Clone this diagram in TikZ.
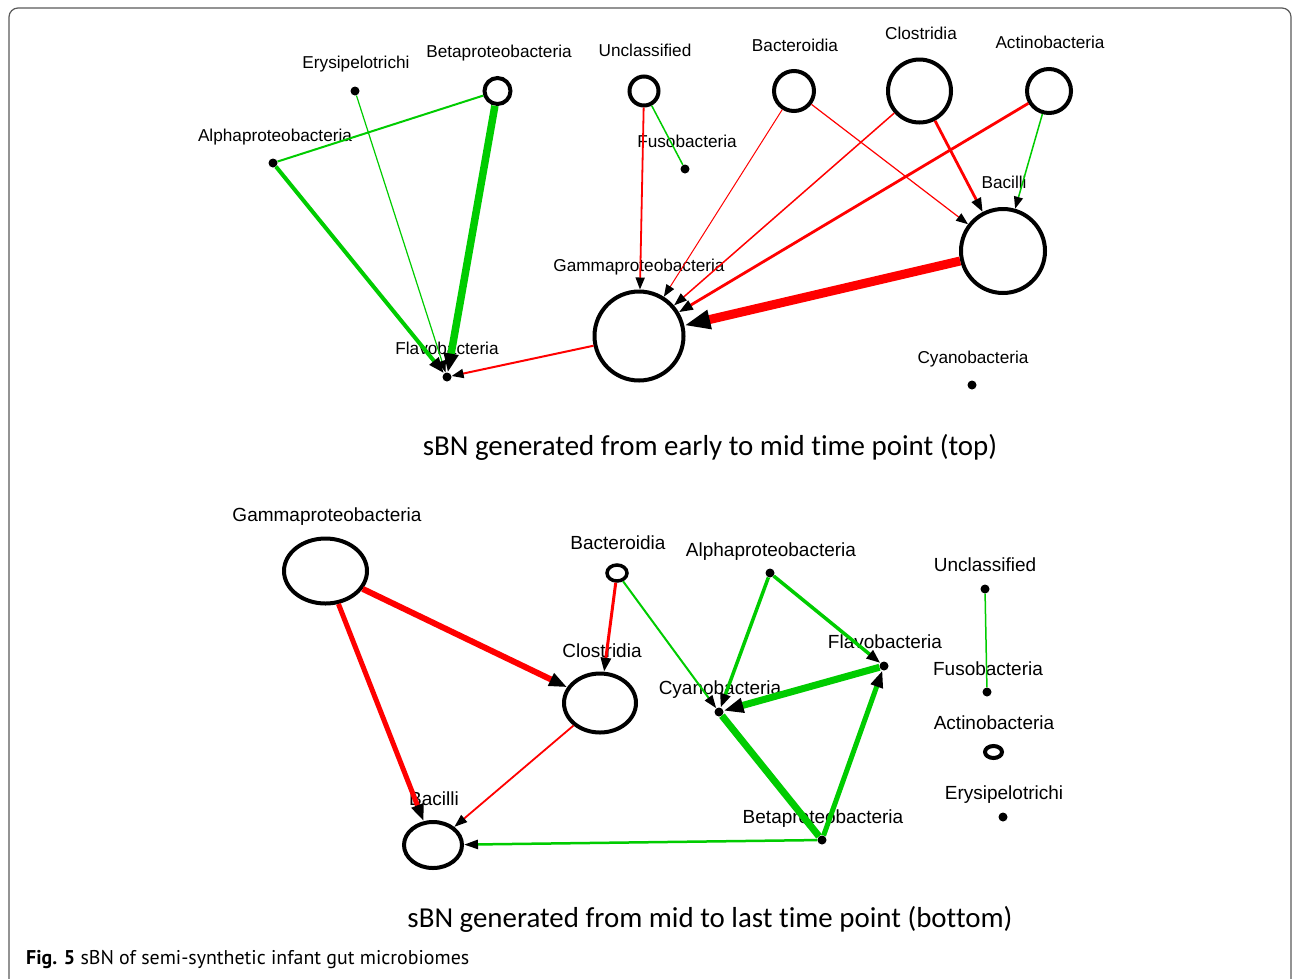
\documentclass[tikz,border=0pt]{standalone}
\usepackage{fontspec}
\setmainfont{Liberation Sans}
\newfontfamily\capfont[Ligatures=NoCommon]{Carlito}
\newfontfamily\figfont{PT Sans}
\usetikzlibrary{arrows.meta,shapes.geometric}
\definecolor{pos}{RGB}{0,204,0}
\definecolor{neg}{RGB}{255,0,0}
\definecolor{frame}{RGB}{90,90,90}
\tikzset{
  lbl/.style={font=\fontsize{17.2}{20}\selectfont, anchor=base, inner sep=0pt},
  lblb/.style={font=\fontsize{19}{22}\selectfont, anchor=base, inner sep=0pt},
  captext/.style={font=\capfont\fontsize{28.9}{34}\selectfont, anchor=base, inner sep=0pt},
  dot/.style={circle, fill=black, minimum size=9pt, inner sep=0pt},
  ring/.style={circle, draw=black, line width=4pt, fill=white, inner sep=0pt, minimum size=#1},
  oval/.style args={#1/#2}{ellipse, draw=black, line width=4pt, fill=white, inner sep=0pt, minimum width=#1, minimum height=#2},
  arr/.style args={#1/#2}{-{Triangle[length=#1pt,width=#2pt,black]}},
  gline/.style={draw=pos, line width=#1},
  rline/.style={draw=neg, line width=#1},
}
\begin{document}
\begin{tikzpicture}[x=1pt,y=-1pt]
\useasboundingbox (0,0) rectangle (1292,978);
\fill[white] (0,0) rectangle (1292,978);
% panel frame
\draw[frame, line width=1.2pt, rounded corners=9pt] (9,1000) -- (9,8) -- (1291,8) -- (1291,1000);

% ---------- early to mid ----------
\node[lbl] (tEryL) at (356,68) {Erysipelotrichi};
\node[lbl] (tBetL) at (499,57) {Betaproteobacteria};
\node[lbl] (tUncL) at (645,56) {Unclassified};
\node[lbl] (tBacL) at (795,51) {Bacteroidia};
\node[lbl] (tCloL) at (921,39) {Clostridia};
\node[lbl] (tActL) at (1050,48) {Actinobacteria};
\node[lbl] (tAlpL) at (275,141) {Alphaproteobacteria};
\node[lbl] (tFusL) at (687,147) {Fusobacteria};
\node[lbl] (tBciL) at (1004,188) {Bacilli};
\node[lbl] (tGamL) at (639,271) {Gammaproteobacteria};
\node[lbl] (tFlaL) at (447,354) {Flavobacteria};
\node[lbl] (tCyaL) at (973,363) {Cyanobacteria};

\node[dot] (tEry) at (355,91) {};
\node[ring=26pt] (tBet) at (497.5,91) {};
\node[ring=29pt] (tUnc) at (644,91) {};
\node[ring=40pt] (tBac) at (794,91) {};
\node[ring=63pt] (tClo) at (919.5,91) {};
\node[ring=44pt] (tAct) at (1049,91) {};
\node[dot] (tAlp) at (273,163) {};
\node[dot] (tFus) at (685,169) {};
\node[ring=84pt] (tBci) at (1003,251) {};
\node[ring=89pt] (tGam) at (639,336) {};
\node[dot] (tFla) at (447,377) {};
\node[dot] (tCya) at (972,385) {};

\draw[gline=2pt] (tAlp) -- (tBet);
\draw[gline=4pt, arr=16/11] (tAlp) -- (tFla);
\draw[gline=1.2pt, arr=12/8] (tEry) -- (tFla);
\draw[gline=7.5pt, arr=19/14] (tBet) -- (tFla);
\draw[gline=1.5pt] (tUnc) -- (tFus);
\draw[rline=1.8pt, arr=12/9] (tUnc) -- (tGam);
\draw[rline=1pt, arr=12/9] (tBac) -- (tGam);
\draw[rline=1.2pt, arr=12/9] (tBac) -- (tBci);
\draw[rline=1.5pt, arr=13/9] (tClo) -- (tGam);
\draw[rline=2.8pt, arr=14/10] (tClo) -- (tBci);
\draw[rline=2.8pt, arr=14/10] (tAct) -- (tGam);
\draw[gline=1.5pt, arr=12/9] (tAct) -- (tBci);
\draw[rline=9pt, arr=26/18] (tBci) -- (tGam);
\draw[rline=2pt, arr=12/9] (tGam) -- (tFla);

\node[captext] (capTop) at (710,455) {sBN generated from early to mid time point (top)};

% ---------- mid to last ----------
\node[lblb] (bGamL) at (327,521) {Gammaproteobacteria};
\node[lblb] (bBacL) at (618,549) {Bacteroidia};
\node[lblb] (bAlpL) at (771,556) {Alphaproteobacteria};
\node[lblb] (bUncL) at (985,571) {Unclassified};
\node[lblb] (bCloL) at (602,657) {Clostridia};
\node[lblb] (bFlaL) at (885,648) {Flavobacteria};
\node[lblb] (bFusL) at (988,675) {Fusobacteria};
\node[lblb] (bCyaL) at (720,694) {Cyanobacteria};
\node[lblb] (bActL) at (994,729) {Actinobacteria};
\node[lblb] (bEryL) at (1004,799) {Erysipelotrichi};
\node[lblb] (bBciL) at (434,805) {Bacilli};
\node[lblb] (bBetL) at (823,823) {Betaproteobacteria};

\node[oval=83pt/65pt] (bGam) at (325.5,571) {};
\node[oval=20pt/16pt, line width=3.5pt] (bBac) at (617,573) {};
\node[dot] (bAlp) at (770,573) {};
\node[dot] (bUnc) at (985,589) {};
\node[oval=72pt/59pt] (bClo) at (600,703) {};
\node[dot] (bFla) at (884,666) {};
\node[dot] (bFus) at (987,692) {};
\node[dot] (bCya) at (719,712) {};
\node[oval=17pt/12pt] (bAct) at (993.5,752) {};
\node[dot] (bEry) at (1003,817) {};
\node[oval=58pt/46pt] (bBci) at (433,845) {};
\node[dot] (bBet) at (822,840) {};

\draw[rline=6pt, arr=18/13] (bGam) -- (bClo);
\draw[rline=5pt, arr=17/12] (bGam) -- (bBci);
\draw[rline=3pt, arr=14/10] (bBac) -- (bClo);
\draw[gline=2pt, arr=13/9] (bBac) -- (bCya);
\draw[rline=1.8pt, arr=13/9] (bClo) -- (bBci);
\draw[gline=3.5pt, arr=14/10] (bAlp) -- (bCya);
\draw[gline=3.5pt, arr=14/10] (bAlp) -- (bFla);
\draw[gline=7pt, arr=20/14] (bFla) -- (bCya);
\draw[gline=7pt] (bBet) -- (bCya);
\draw[gline=5pt, arr=17/12] (bBet) -- (bFla);
\draw[gline=2.5pt, arr=14/9] (bBet) -- (bBci);
\draw[gline=1.5pt] (bUnc) -- (bFus);

\node[captext] (capBot) at (710,927) {sBN generated from mid to last time point (bottom)};

\node[font=\figfont\fontsize{19.9}{23}\selectfont, anchor=base west, inner sep=0pt] (fig) at (26,964) {\textbf{Fig. 5} sBN of semi-synthetic infant gut microbiomes};
\end{tikzpicture}
\end{document}
